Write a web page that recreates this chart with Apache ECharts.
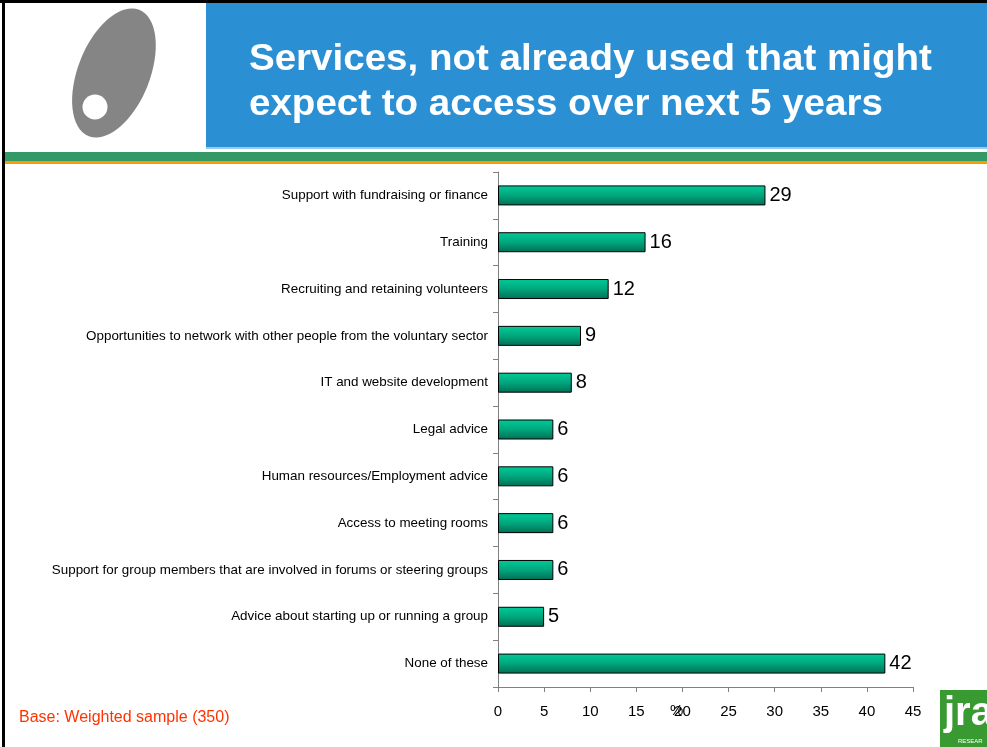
<!DOCTYPE html>
<html><head><meta charset="utf-8">
<script src="https://cdn.jsdelivr.net/npm/echarts@6/dist/echarts.min.js"></script>
<style>html,body{margin:0;padding:0;background:#fff}#c{width:987px;height:747px}</style>
</head><body><div id="c"></div>
<script>
const categories = [
  "Support with fundraising or finance",
  "Training",
  "Recruiting and retaining volunteers",
  "Opportunities to network with other people from the voluntary sector",
  "IT and website development",
  "Legal advice",
  "Human resources/Employment advice",
  "Access to meeting rooms",
  "Support for group members that are involved in forums or steering groups",
  "Advice about starting up or running a group",
  "None of these"
];
const values = [29, 16, 12, 9, 8, 6, 6, 6, 6, 5, 42];
const xTicks = [0, 5, 10, 15, 20, 25, 30, 35, 40, 45];

const chart = echarts.init(document.getElementById('c'), null, {renderer: 'canvas'});
chart.setOption({
  animation: false,
  grid: {left: 498, right: 987 - 913, top: 172, bottom: 747 - 687, containLabel: false},
  xAxis: {
    type: 'value', min: 0, max: 45, interval: 5,
    axisLine: {show: true, lineStyle: {color: '#808080', width: 1}},
    axisTick: {show: true, length: 5, lineStyle: {color: '#808080'}},
    axisLabel: {fontFamily: 'Liberation Sans', fontSize: 15, color: '#000', margin: 17,
      formatter: v => xTicks.includes(v) ? String(v) : ''},
    splitLine: {show: false}
  },
  yAxis: {
    type: 'category', data: categories, inverse: true,
    axisLine: {show: true, lineStyle: {color: '#808080', width: 1}},
    axisTick: {show: true, length: 5, inside: false, lineStyle: {color: '#808080'}},
    axisLabel: {fontFamily: 'Liberation Sans', fontSize: 13.4, color: '#000', margin: 10}
  },
  series: [{
    type: 'bar', data: values, barWidth: 20,
    itemStyle: {
      color: new echarts.graphic.LinearGradient(0, 0, 0, 1, [
        {offset: 0, color: '#00cc99'},
        {offset: 0.5, color: '#00a67c'},
        {offset: 1, color: '#006e55'}
      ]),
      borderColor: '#000', borderWidth: 1
    },
    label: {show: true, position: 'right', distance: 4, fontFamily: 'Liberation Sans', fontSize: 20, color: '#000'}
  }],
  graphic: [
    {type: 'rect', shape: {x: 206, y: 3, width: 781, height: 145}, style: {fill: '#2b8fd3'}},
    {type: 'rect', shape: {x: 206, y: 147, width: 781, height: 2}, style: {fill: '#9cc9ea'}},
    {type: 'rect', shape: {x: 4, y: 152, width: 983, height: 9}, style: {fill: '#339966'}},
    {type: 'rect', shape: {x: 4, y: 161, width: 983, height: 3}, style: {fill: '#f5a000'}},
    {type: 'rect', shape: {x: 0, y: 0, width: 987, height: 3}, style: {fill: '#000'}},
    {type: 'rect', shape: {x: 2, y: 0, width: 3, height: 747}, style: {fill: '#000'}},
    {type: 'text', x: 249, y: 42, scaleX: 1.07, style: {text: 'Services, not already used that might', fill: '#fff', font: 'bold 36px "Liberation Sans"'}},
    {type: 'text', x: 249, y: 87, scaleX: 1.07, style: {text: 'expect to access over next 5 years', fill: '#fff', font: 'bold 36px "Liberation Sans"'}},
    {type: 'ellipse', shape: {cx: 114, cy: 73, rx: 36, ry: 68}, rotation: -0.38, originX: 114, originY: 73, style: {fill: '#858585'}},
    {type: 'circle', shape: {cx: 95, cy: 107, r: 12.5}, style: {fill: '#fff'}},
    {type: 'text', x: 19, y: 710, style: {text: 'Base: Weighted sample (350)', fill: '#ff3300', font: '16px "Liberation Sans"'}},
    {type: 'text', x: 670, y: 703, style: {text: '%', fill: '#000', font: '15px "Liberation Sans"'}},
    {type: 'rect', shape: {x: 940, y: 690, width: 47, height: 57}, style: {fill: '#3a9a32'}},
    {type: 'text', x: 944, y: 694, style: {text: 'jra', fill: '#fff', font: 'bold 40px "Liberation Sans"'}},
    {type: 'text', x: 958, y: 738, style: {text: 'RESEAR', fill: '#fff', font: '6px "Liberation Sans"'}}
  ]
});
</script></body></html>
